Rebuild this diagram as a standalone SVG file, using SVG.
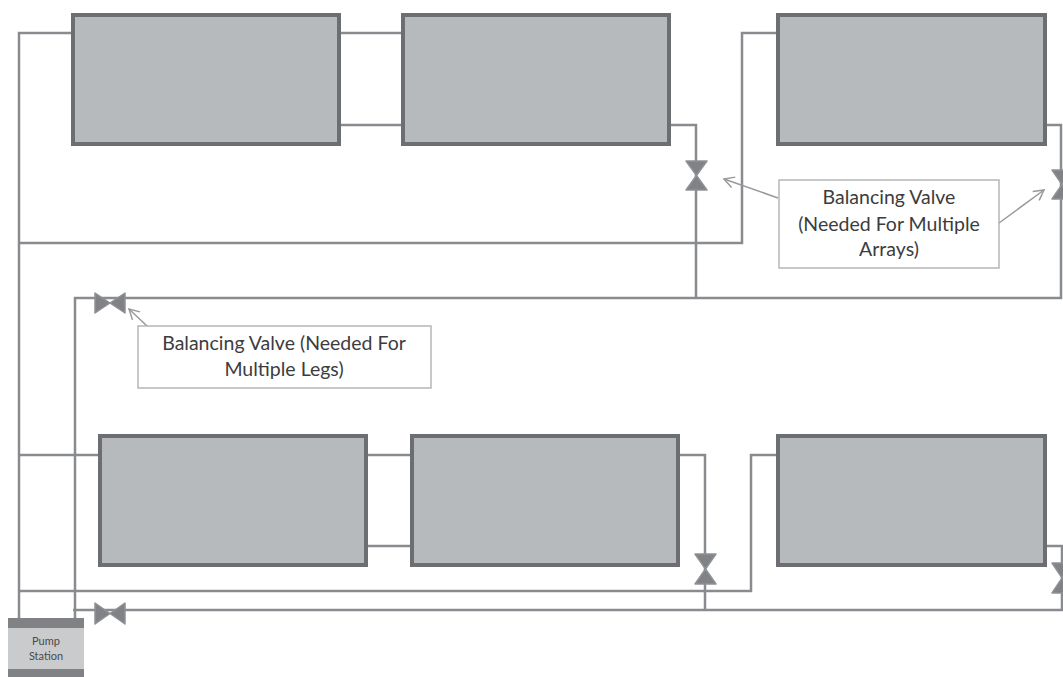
<svg xmlns="http://www.w3.org/2000/svg" width="1063" height="677" viewBox="0 0 1063 677">
<style>
.panel{fill:#b7babc;stroke:#6d6e71;stroke-width:4}
.pipe{fill:none;stroke:#898b8e;stroke-width:2.5}
.valve{fill:#808285;stroke:#8f9194;stroke-width:1.5;stroke-linejoin:round}
.box{fill:#fff;stroke:#a9abae;stroke-width:1.3}
.lead{fill:none;stroke:#98999c;stroke-width:1.5;marker-end:url(#open)}
.t{font-family:"Lato","Open Sans",sans-serif;font-size:19.5px;fill:#3c3c3e;text-anchor:middle}
.s{font-family:"Lato","Open Sans",sans-serif;font-size:11px;fill:#4a4a4c;text-anchor:middle}
</style>
<defs>
<marker id="open" markerWidth="14" markerHeight="14" refX="12" refY="7" orient="auto" markerUnits="userSpaceOnUse">
<path d="M2 1.5L12 7L2 12.5" fill="none" stroke="#98999c" stroke-width="1.5"/>
</marker>
</defs>
<rect width="1063" height="677" fill="#fff"/>
<g id="connectors">
<path class="pipe" d="M73 33H19V618"/>
<path class="pipe" d="M339 33H403M339 125H403"/>
<path class="pipe" d="M669 125H696V298"/>
<path class="pipe" d="M19 243H742V33H778"/>
<path class="pipe" d="M1045 125H1061V298H75V618"/>
<path class="pipe" d="M19 455H100M366 455H412M366 546H412"/>
<path class="pipe" d="M678 455H705V610"/>
<path class="pipe" d="M19 591H751V455H778"/>
<path class="pipe" d="M1045 546H1062V610H73"/>
<path class="lead" d="M778 198L724 179"/>
<path class="lead" d="M999 223L1044 190"/>
<path class="lead" d="M147 326L129 309"/>
</g>
<g id="panel-1"><rect class="panel" x="73" y="15" width="266" height="129"/></g>
<g id="panel-2"><rect class="panel" x="403" y="15" width="266" height="129"/></g>
<g id="panel-3"><rect class="panel" x="778" y="15" width="267" height="129"/></g>
<g id="panel-4"><rect class="panel" x="100" y="436" width="266" height="129"/></g>
<g id="panel-5"><rect class="panel" x="412" y="436" width="266" height="129"/></g>
<g id="panel-6"><rect class="panel" x="778" y="436" width="267" height="129"/></g>
<g id="valve-1"><polygon class="valve" points="686,161 707,161 686,190 707,190"/></g>
<g id="valve-2"><polygon class="valve" points="1052,170 1072,170 1052,199 1072,199"/></g>
<g id="valve-3"><polygon class="valve" points="95,293 125,313 125,293 95,313"/></g>
<g id="valve-4"><polygon class="valve" points="695,554 716,554 695,584 716,584"/></g>
<g id="valve-5"><polygon class="valve" points="1052,563 1072,563 1052,593 1072,593"/></g>
<g id="valve-6"><polygon class="valve" points="95,603 125,624 125,603 95,624"/></g>
<g id="callout-arrays">
<rect class="box" x="779" y="180" width="220" height="88"/>
<text class="t" x="889" y="204">Balancing Valve</text>
<text class="t" x="889" y="231">(Needed For Multiple</text>
<text class="t" x="889" y="256">Arrays)</text>
</g>
<g id="callout-legs">
<rect class="box" x="138" y="326" width="293" height="62"/>
<text class="t" x="284" y="350">Balancing Valve (Needed For</text>
<text class="t" x="284" y="376">Multiple Legs)</text>
</g>
<g id="pump-station">
<rect x="8" y="618" width="76" height="59" fill="#c9cbcd"/>
<rect x="8" y="618" width="76" height="10" fill="#808285"/>
<rect x="8" y="669" width="76" height="8" fill="#808285"/>
<text class="s" x="46" y="645">Pump</text>
<text class="s" x="46" y="660">Station</text>
</g>
</svg>
